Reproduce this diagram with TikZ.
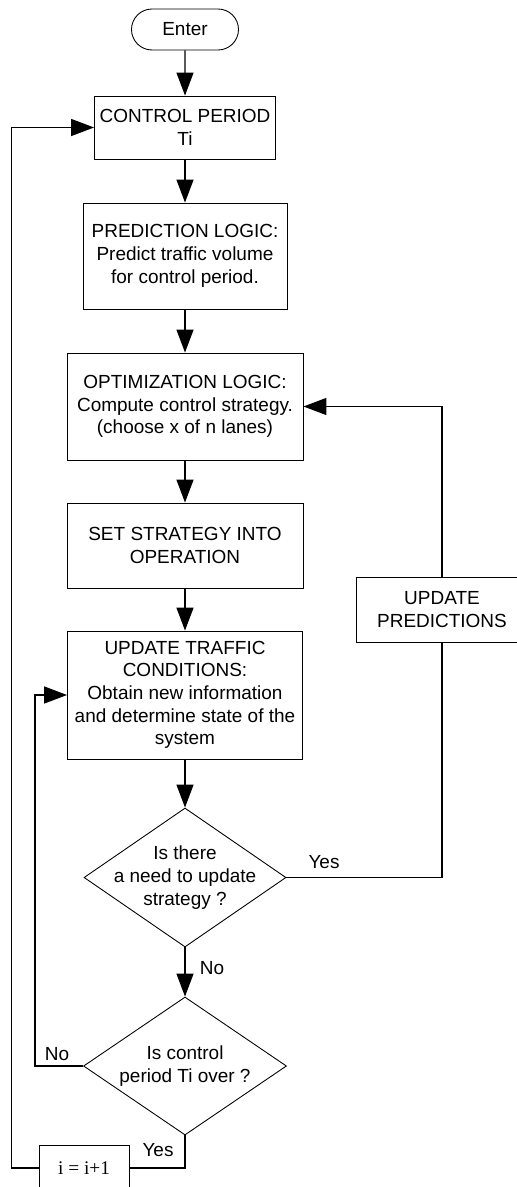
\documentclass[tikz,border=0pt]{standalone}
\usepackage{fontspec}
\setmainfont{Liberation Sans}
\newfontfamily\serifface{Liberation Serif}
\usetikzlibrary{arrows.meta,shapes.geometric,shapes.misc}

\tikzset{
  txt/.style={font=\fontsize{10.8}{12.9}\selectfont, align=center},
  box/.style={draw, line width=0.5pt, txt, inner sep=0pt},
  decision/.style={draw, diamond, line width=0.5pt, inner sep=0pt},
  flow/.style={line width=0.8pt, -{Triangle[length=0.46cm,width=0.34cm]}},
  link/.style={line width=0.8pt}
}

\begin{document}
\begin{tikzpicture}
			%%%%% START %%%%%
			\useasboundingbox (0, 0) rectangle (10.32, -23.74);
			
			\node[box, rounded rectangle, minimum width=2.14cm, minimum height=0.82cm] (enter) at (3.70, -0.59) {Enter};
			\node[box, minimum width=3.62cm, minimum height=1.26cm] (ctrl) at (3.70, -2.55) {CONTROL PERIOD\\Ti};
			\node[box, minimum width=4.08cm, minimum height=2.12cm] (pred) at (3.70, -5.12) {PREDICTION LOGIC:\\Predict traffic volume\\for control period.};
			\node[box, minimum width=4.72cm, minimum height=2.14cm] (opt) at (3.70, -8.13) {OPTIMIZATION LOGIC:\\Compute control strategy.\\(choose x of n lanes)};
			\node[box, minimum width=4.72cm, minimum height=1.70cm] (set) at (3.70, -10.91) {SET STRATEGY INTO\\OPERATION};
			\node[box, minimum width=4.70cm, minimum height=2.56cm] (upd) at (3.70, -13.90) {UPDATE TRAFFIC\\CONDITIONS:\\Obtain new information\\and determine state of the\\system};
			\node[box, minimum width=3.44cm, minimum height=1.30cm] (updpred) at (8.84, -12.19) {UPDATE\\PREDICTIONS};
			
			\node[decision, minimum width=4.04cm, minimum height=2.78cm,
			      label={[txt]center:{Is there\\a need to update\\strategy ?}}] (dec1) at (3.70, -17.55) {};
			\node[decision, minimum width=4.06cm, minimum height=2.76cm,
			      label={[txt]center:{Is control\\period Ti over ?}}] (dec2) at (3.70, -21.32) {};
			
			\node[draw, line width=0.5pt, minimum width=1.80cm, minimum height=0.92cm, font=\serifface\fontsize{11}{13}\selectfont] (inc) at (1.68, -23.36) {i = i+1};
			
			\draw[flow] (enter) -- (ctrl);
			\draw[flow] (ctrl) -- (pred);
			\draw[flow] (pred) -- (opt);
			\draw[flow] (opt) -- (set);
			\draw[flow] (set) -- (upd);
			\draw[flow] (upd) -- (dec1);
			\draw[flow] (dec1) -- (dec2);
			
			\draw[link] (dec1.east) -| (updpred.south);
			\draw[flow] (updpred.north) |- (opt.east);
			\draw[flow] (dec2.west) -- ++(-0.96, 0) |- (upd.west);
			\draw[link] (dec2.south) |- (inc.east);
			\draw[flow] (inc.west) -- ++(-0.54, 0) |- (ctrl.west);
			
			\node[txt] (yes1) at (6.48, -17.24) {Yes};
			\node[txt] (no1) at (4.24, -19.36) {No};
			\node[txt] (no2) at (1.14, -21.08) {No};
			\node[txt] (yes2) at (3.16, -23.00) {Yes};
			%%%%% END %%%%%
		\end{tikzpicture}
\end{document}
